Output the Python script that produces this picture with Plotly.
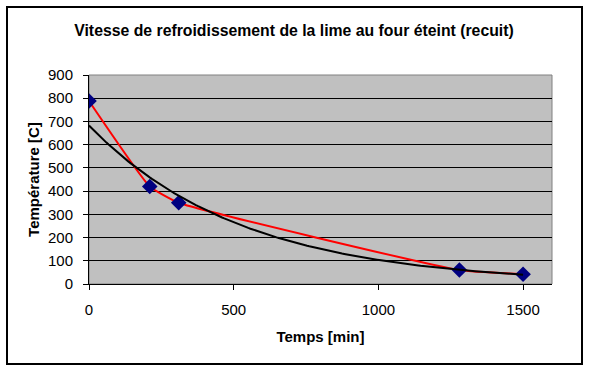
import numpy as np
import plotly.graph_objects as go

temps_min = [0, 210, 310, 1280, 1500]
temperature_c = [788, 420, 350, 60, 42]
x_ticks = [0, 500, 1000, 1500]
y_ticks = [0, 100, 200, 300, 400, 500, 600, 700, 800, 900]

# Exponential trendline (least squares on log values, as Excel does)
b, a = np.polyfit(temps_min, np.log(temperature_c), 1)
trend_x = np.linspace(0, 1500, 200)
trend_y = np.exp(a) * np.exp(b * trend_x)

W, H = 591, 373
L, R, T, B = 89, 552, 75, 284
pw, ph = R - L, B - T

fig = go.Figure()
fig.add_trace(go.Scatter(
    x=temps_min, y=temperature_c, mode="lines+markers",
    line=dict(color="#ff0000", width=2, shape="spline", smoothing=0.4),
    marker=dict(symbol="diamond", size=12, color="#000080"),
    showlegend=False, hoverinfo="x+y"))
fig.add_trace(go.Scatter(
    x=trend_x, y=trend_y, mode="lines",
    line=dict(color="#000000", width=2),
    showlegend=False, hoverinfo="skip"))

font = "Liberation Sans, Arial, sans-serif"
fig.update_layout(
    width=W, height=H,
    margin=dict(l=L, r=W - R, t=T, b=H - B, pad=0),
    paper_bgcolor="white", plot_bgcolor="#c0c0c0",
    font=dict(family=font, size=15, color="black"),
    title=dict(text="<b>Vitesse de refroidissement de la lime au four éteint (recuit)</b>",
               x=(294 - L) / pw, xref="paper", xanchor="center",
               y=1 - 30 / H, yanchor="middle",
               font=dict(size=15.8, family=font, color="black")),
    xaxis=dict(range=[0, 1600], tickvals=x_ticks, ticks="outside", ticklen=5,
               tickcolor="black", showline=True, linecolor="black", linewidth=1,
               showgrid=False, zeroline=False, ticklabelstandoff=7,
               tickfont=dict(size=15),
               title=dict(text="<b>Temps [min]</b>", standoff=14,
                          font=dict(size=15, family=font))),
    yaxis=dict(range=[0, 900], tickvals=y_ticks, ticks="outside", ticklen=5,
               tickcolor="black", showline=True, linecolor="black", linewidth=1,
               showgrid=True, gridcolor="black", gridwidth=1, zeroline=False,
               ticklabelstandoff=7, tickfont=dict(size=15),
               title=dict(text="<b>Température [C]</b>", standoff=4,
                          font=dict(size=15, family=font))),
    shapes=[
        dict(type="rect", xref="paper", yref="paper", x0=0, x1=1, y0=0, y1=1,
             line=dict(color="#808080", width=1), layer="below"),
        dict(type="rect", xref="paper", yref="paper",
             x0=(7 - L) / pw, x1=(582 - L) / pw,
             y0=(B - 364) / ph, y1=(B - 7) / ph,
             line=dict(color="black", width=2), layer="below"),
    ],
)
fig.write_html("out.html", config={"displayModeBar": False})

# remove the default page margin so the figure sits at the window origin
with open("out.html", "r", encoding="utf-8") as f:
    html = f.read()
html = html.replace("<head>", "<head><style>html,body{margin:0;padding:0;overflow:hidden}</style>", 1)
with open("out.html", "w", encoding="utf-8") as f:
    f.write(html)
